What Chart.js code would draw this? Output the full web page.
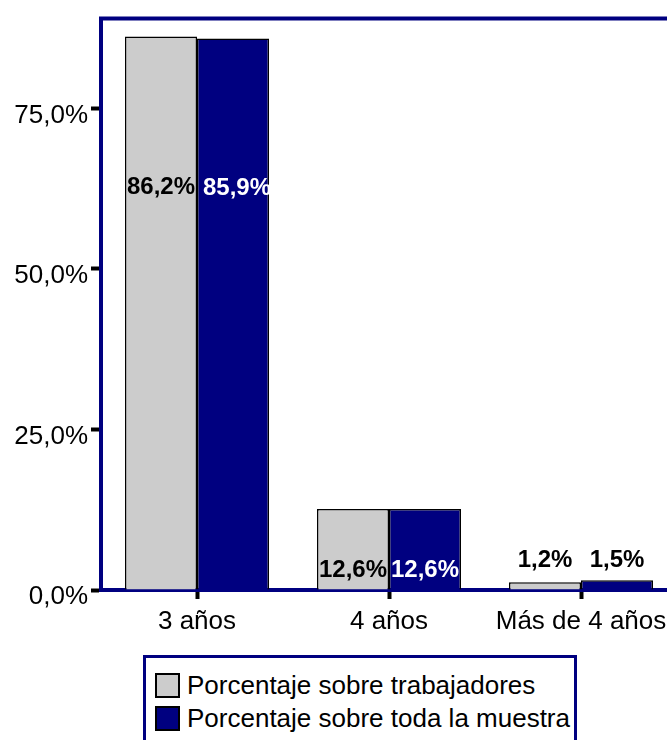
<!DOCTYPE html>
<html>
<head>
<meta charset="utf-8">
<script src="https://cdn.jsdelivr.net/npm/chart.js@4/dist/chart.umd.min.js"></script>
<style>
    html, body { margin: 0; padding: 0; background: #fff; width: 667px; height: 740px; overflow: hidden; }
    #wrap { position: relative; width: 680px; height: 740px; }
    #legend {
        position: absolute; left: 143px; top: 655px; width: 428px; height: 100px;
        border: 3px solid #000080; background: #fff;
        font-family: 'Liberation Sans', Arial, sans-serif; font-size: 26px; color: #000;
    }
    .row { position: absolute; left: 9px; display: flex; align-items: center; white-space: nowrap; }
    .sw { width: 21px; height: 21px; border: 2px solid #000; margin-right: 7px; }
</style>
</head>
<body>
<div id="wrap">
    <canvas id="chart" width="680" height="740"></canvas>
    <div id="legend"></div>
</div>
<script>
// Data
const categories = ['3 años', '4 años', 'Más de 4 años'];
const trabajadores = [86.2, 12.6, 1.2];
const muestra = [85.9, 12.6, 1.5];
const seriesNames = ['Porcentaje sobre trabajadores', 'Porcentaje sobre toda la muestra'];
const yTicks = [0, 25, 50, 75];

const GRAY = '#cccccc';
const NAVY = '#000080';
const FONT = "'Liberation Sans', Arial, sans-serif";

const fmt = v => v.toFixed(1).replace('.', ',') + '%';

// top frame line
const framePlugin = {
    id: 'frame',
    afterDraw(chart) {
        const { ctx, chartArea } = chart;
        ctx.save();
        ctx.strokeStyle = NAVY;
        ctx.lineWidth = 4;
        ctx.beginPath();
        ctx.moveTo(chartArea.left - 2, chartArea.top);
        ctx.lineTo(chartArea.right + 5, chartArea.top);
        ctx.stroke();
        ctx.restore();
    }
};

// value labels, placed like the original
const labelPlugin = {
    id: 'labels',
    afterDatasetsDraw(chart) {
        const { ctx } = chart;
        const y = chart.scales.y;
        const base = y.getPixelForValue(0);
        ctx.save();
        ctx.font = 'bold 24px ' + FONT;
        ctx.textAlign = 'center';
        ctx.textBaseline = 'middle';
        chart.data.datasets.forEach((ds, di) => {
            chart.getDatasetMeta(di).data.forEach((bar, i) => {
                const v = ds.data[i];
                let py;
                if (v > 50) py = y.getPixelForValue(v * 0.728);
                else if (v > 5) py = base - 20;
                else py = base - 30;
                ctx.fillStyle = (di === 1 && v > 5) ? '#fff' : '#000';
                ctx.fillText(fmt(v), bar.x + (v > 50 && di === 1 ? 4 : 0), py);
            });
        });
        ctx.restore();
    }
};

const chart = new Chart(document.getElementById('chart'), {
    type: 'bar',
    data: {
        labels: categories,
        datasets: [
            { label: seriesNames[0], data: trabajadores, backgroundColor: GRAY, borderColor: '#000', borderWidth: 1.5 },
            { label: seriesNames[1], data: muestra, backgroundColor: NAVY, borderColor: '#000', borderWidth: 1.5 }
        ]
    },
    options: {
        responsive: false,
        devicePixelRatio: 1,
        animation: false,
        layout: { padding: { top: 16, right: 3, left: 0, bottom: 0 } },
        datasets: { bar: { categoryPercentage: 0.75, barPercentage: 1.0 } },
        plugins: {
            legend: { display: false },
            tooltip: { enabled: false }
        },
        scales: {
            x: {
                grid: { offset: false, drawOnChartArea: false, tickLength: 9, tickColor: '#000', tickWidth: 4 },
                border: { color: NAVY, width: 4 },
                ticks: { color: '#000', font: { family: FONT, size: 26 }, padding: 7, maxRotation: 0 },
                afterFit(scale) { scale.height = 150; }
            },
            y: {
                min: 0,
                max: 89,
                afterBuildTicks(scale) { scale.ticks = yTicks.map(v => ({ value: v })); },
                grid: { drawOnChartArea: false, tickLength: 10, tickColor: '#000', tickWidth: 4 },
                border: { color: NAVY, width: 4 },
                ticks: { color: '#000', font: { family: FONT, size: 26 }, padding: 3, labelOffset: 7, callback: v => fmt(v) },
                afterFit(scale) { scale.width = 101; }
            }
        }
    },
    plugins: [framePlugin, labelPlugin]
});

// HTML legend built from the datasets
const legend = document.getElementById('legend');
chart.data.datasets.forEach((ds, i) => {
    const row = document.createElement('div');
    row.className = 'row';
    row.style.top = (12 + i * 33) + 'px';
    row.innerHTML = `<span class="sw" style="background:${ds.backgroundColor}"></span><span>${ds.label}</span>`;
    legend.appendChild(row);
});
</script>
</body>
</html>
